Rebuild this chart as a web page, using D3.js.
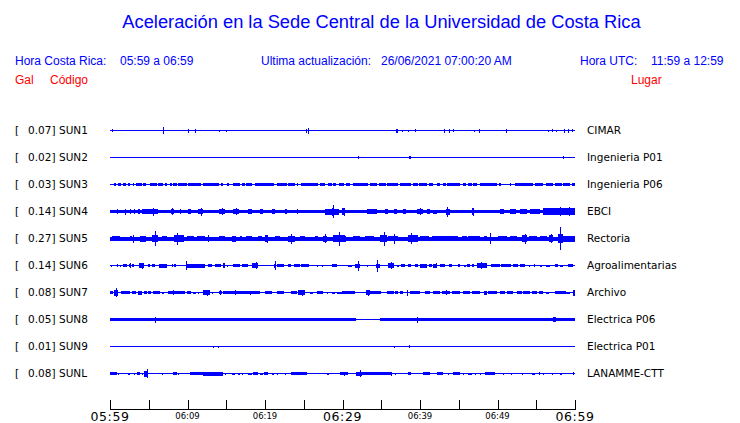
<!DOCTYPE html>
<html><head><meta charset="utf-8">
<script src="https://cdn.jsdelivr.net/npm/d3@7"></script>
<style>html,body{margin:0;padding:0;background:#fff;}svg{display:block;}</style>
</head><body>
<script>
// ---------- DATA ----------
const title = "Aceleración en la Sede Central de la Universidad de Costa Rica";
const horaCR = "05:59 a 06:59";
const actualizacion = "26/06/2021 07:00:20 AM";
const horaUTC = "11:59 a 12:59";

const codes  = ["SUN1","SUN2","SUN3","SUN4","SUN5","SUN6","SUN7","SUN8","SUN9","SUNL"];
const gals   = ["0.07","0.02","0.03","0.14","0.27","0.14","0.08","0.05","0.01","0.08"];
const places = ["CIMAR","Ingenieria P01","Ingenieria P06","EBCI","Rectoria","Agroalimentarias","Archivo","Electrica P06","Electrica P01","LANAMME-CTT"];
// background (noise) amplitude of each trace, relative units
const baseAmp = [0.5,0.5,0.5,1.7,2.0,0.5,0.5,0.5,0.5,0.5];

// bursts: [startMinute, endMinute, amplitude] (minutes after 05:59)
const sun1 = [[0.3,0.3,1.5],[6.8,7.0,3.3],[10.1,10.1,2],[11.0,11.0,2],[14.1,14.1,1],[15.0,15.0,1],[25.3,25.4,2],[25.5,25.7,3],[36.9,37.1,2],[37.7,37.7,1],[38.4,38.4,1],[39.3,39.4,1.5],[40.7,40.7,0.8],[43.1,43.2,2],[43.7,43.7,2],[44.2,44.3,1.5],[47.0,47.0,1],[47.65,47.65,2],[51.1,51.1,2],[56.55,56.55,1],[57.0,57.0,1.5],[57.55,57.55,1],[58.6,58.6,2],[59.1,59.1,2],[59.65,59.65,1.5]];
const sun2 = [[32.0,32.0,1.5],[38.6,38.8,1.5],[58.4,58.4,1.5]];
const sun3 = [[0.56,0.73,1.3],[0.99,1.42,1.3],[1.72,2.02,1.3],[2.28,2.58,1.3],[3.01,3.14,1.3],[3.31,4.09,1.3],[4.30,4.60,1.3],[5.16,6.02,1.3],[6.24,6.88,1.3],[7.10,7.31,1.3],[7.74,7.96,1.3],[8.17,8.60,1.3],[8.82,9.89,1.3],[10.1,11.8,1.3],[12.0,14.0,1.3],[14.3,14.6,1.3],[15.05,15.35,1.3],[15.9,16.8,1.3],[17.0,17.4,1.3],[17.6,18.3,1.3],[18.7,21.1,1.3],[21.6,22.8,1.3],[23.0,23.9,1.3],[24.1,24.3,1.3],[24.7,26.9,1.3],[27.1,27.7,1.3],[28.1,28.6,1.3],[28.8,29.2,1.3],[29.5,30.2,1.3],[30.45,31.0,1.3],[31.4,33.3,1.3],[33.5,34.4,1.3],[34.75,35.6,1.3],[35.8,37.2,1.3],[37.4,38.9,1.3],[39.1,39.7,1.3],[39.9,40.9,1.3],[41.1,41.7,1.3],[42.2,42.6,1.3],[43.0,43.3,1.3],[43.5,45.2,1.3],[45.5,45.9,1.3],[46.2,46.7,1.3],[46.9,47.4,1.3],[47.7,49.9,1.3],[50.2,50.5,1.3],[51.6,51.8,1.3],[52.3,53.1,1.3],[53.2,54.6,1.3],[54.8,55.9,1.3],[56.3,57.2,1.3],[57.4,58.3,1.3],[58.5,59.4,1.3],[59.6,60.0,1.3]];
const sun4 = [[0.86,1.08,2.6],[1.9,1.9,3],[2.6,2.6,2.5],[3.1,3.1,2.2],[3.6,3.9,2.3],[4.1,6.2,2.2],[5.1,5.3,2.8],[5.6,5.6,4],[7.9,8.2,2.8],[8.05,8.05,3.6],[9.0,9.0,2.5],[10.1,10.5,2.2],[11.4,12.0,2.6],[11.8,11.8,4],[14.0,14.8,2.5],[14.4,14.4,3.2],[15.9,16.6,2.7],[16.2,16.2,3.6],[17.8,18.3,2.2],[19.3,19.7,2.5],[20.9,21.3,2.2],[22.6,22.9,2.2],[24.1,24.1,2.5],[27.7,29.5,3],[28.6,28.9,4],[28.8,28.8,6.5],[29.9,30.2,3.2],[30.2,30.2,4],[33.1,34.4,2.2],[35.5,35.9,2.2],[36.6,37.0,2.2],[37.8,38.2,2.6],[39.6,40.4,2.8],[40.0,40.0,3.8],[40.9,41.3,2.1],[41.7,42.2,2],[43.3,43.9,3],[43.5,43.6,5],[46.7,47.0,3.2],[46.85,46.85,4],[50.3,50.9,2.1],[51.6,52.4,2.6],[52.9,53.8,2.3],[54.2,55.5,2.3],[55.9,60,3.3],[57.0,59.8,3.9],[58.0,58.0,4.8],[59.2,59.2,4.8]];
const sun5 = [[0.2,1.3,2.7],[2.6,2.8,2.7],[3.0,3.0,4],[3.9,4.7,3],[5.4,6.2,3.2],[5.8,5.8,7.5],[6.7,7.3,2.6],[8.2,9.5,3.8],[8.6,8.6,6],[9.9,10.8,2.6],[11.2,12.3,2.6],[12.7,12.7,3.5],[14.0,14.8,2.6],[15.7,16.3,3],[16.8,17.0,2.6],[17.6,18.3,2.6],[19.1,19.6,2.6],[20.0,20.4,3.3],[20.2,20.2,4],[21.3,21.9,2.6],[23.0,23.9,3],[23.4,23.4,5],[24.5,25.2,2.6],[26.5,26.9,2.6],[27.5,28.0,3],[27.75,27.75,4.5],[28.8,30.3,3.3],[29.5,29.5,7],[29.7,30.5,3],[31.4,32.3,2.6],[32.9,34.0,2.6],[34.8,35.7,3.2],[35.3,35.3,7],[35.9,37.2,2.9],[36.6,36.6,5],[38.5,39.8,3.6],[38.9,38.9,5.5],[40.0,41.1,2.9],[41.5,42.6,2.6],[42.6,44.9,2.3],[45.4,46.0,2.9],[46.2,47.8,2.6],[48.2,48.6,2.9],[49.0,49.1,5.5],[50.0,51.2,2.3],[51.6,52.5,2.6],[53.1,53.8,3.3],[53.6,53.6,5],[54.0,55.1,2.6],[55.5,56.4,2.9],[56.6,57.2,3.6],[56.9,56.9,4.8],[57.8,58.4,4.5],[58.1,58.1,11.5],[58.4,60,3]];
const sun6 = [[0.13,0.3,1],[0.86,1.08,1.5],[1.29,1.29,1],[1.72,2.15,1.5],[2.45,2.71,1.5],[2.58,2.58,2.5],[2.88,3.14,1.5],[3.74,4.43,2.5],[4.09,4.09,3],[4.86,5.16,1.5],[5.38,5.81,1.5],[6.32,7.31,2],[7.96,8.17,1.5],[8.3,8.52,1.5],[9.8,9.8,4.5],[9.89,12.26,2],[12.7,13.1,1.5],[13.5,14.3,1.5],[14.6,14.8,2.5],[15.05,15.05,1],[15.9,16.8,1.5],[17.0,17.85,1.5],[18.3,19.1,2.5],[18.8,18.8,3.5],[21.1,21.4,2],[21.3,21.3,4.5],[21.5,22.4,1.5],[23.0,23.4,1.5],[23.7,24.5,1.5],[24.7,25.7,1.5],[26.7,26.9,1],[27.3,27.3,1],[28.6,29.3,1.5],[30.75,31.2,1],[31.6,32.3,2],[32.0,32.0,5],[33.1,33.3,1],[34.3,34.9,2],[34.5,34.5,6],[35.9,36.6,2.5],[36.3,36.3,3.5],[37.0,37.3,1],[37.6,38.1,1.5],[38.5,38.9,1.5],[39.35,39.8,1.5],[40.0,40.9,2],[41.2,41.5,1.5],[41.7,42.2,2],[42.0,42.0,2.5],[42.6,43.2,1.5],[43.7,44.1,1.5],[44.9,45.2,1.5],[45.7,45.9,1],[46.0,46.5,1.5],[46.7,47.0,1.5],[47.3,48.6,2.5],[47.9,47.9,3.5],[49.2,50.3,1.5],[50.5,51.8,1.5],[52.0,52.7,1.5],[52.9,53.5,1.5],[54.0,54.2,1],[54.65,54.8,1.5],[55.5,55.7,1],[56.3,56.8,1],[57.4,57.85,1.5],[58.1,58.5,1],[59.1,59.8,1.5]];
const sun7 = [[0,0.43,1.5],[0.56,1.08,3],[0.73,0.73,4.5],[1.42,2.58,1.5],[2.88,3.31,1.5],[3.66,4.09,2],[4.43,4.73,1.5],[4.95,5.29,1.5],[5.59,6.45,1.5],[6.75,7.0,1],[7.53,9.68,1.5],[8.09,8.09,2.5],[9.89,10.5,1.5],[10.75,11.05,1],[11.4,11.4,1],[12.0,12.9,2.5],[12.5,12.5,3],[13.2,13.2,1],[14.0,14.4,1.5],[14.2,14.2,2.5],[14.6,19.35,1.5],[16.1,16.1,2.5],[18.1,18.1,2],[20.0,20.9,1.5],[21.5,22.4,1.5],[23.4,24.1,1.5],[24.3,25.2,2.5],[24.8,24.8,3],[25.8,26.2,1],[26.7,27.5,1.5],[27.96,27.96,1],[28.6,29.0,1],[29.25,29.9,1],[29.9,30.5,1.5],[30.5,31.6,1.5],[33.0,33.5,2.5],[33.3,33.3,3],[33.6,35.0,1.5],[35.7,36.6,1.5],[36.8,37.2,1.5],[37.4,37.8,1.5],[38.3,38.5,3],[38.7,40.0,1.5],[40.65,41.3,1.5],[41.7,42.6,1.5],[42.8,43.9,1.5],[43.4,43.4,2.5],[44.1,45.2,1.5],[45.6,46.5,1.5],[46.75,47.8,1.5],[48.2,48.6,2],[48.8,49.9,1.5],[50.3,51.0,1.5],[51.2,52.0,1.5],[52.5,53.1,1.5],[53.3,54.2,1.5],[54.4,55.05,1.5],[55.3,55.9,1.5],[56.3,56.6,1],[57.4,58.8,1.5],[58.9,59.4,1],[59.8,60,3]];
const sun8 = [[0,31.8,1.8],[34.8,60,1.8],[5.8,5.8,3],[39.6,39.7,3],[57.2,57.5,2.5]];
const sun9 = [[13.3,13.3,1],[13.9,13.9,1],[36.7,36.7,1],[38.6,38.6,1.5]];
const sunl = [[0,0.86,1.5],[1.08,1.08,1],[2.37,2.58,1],[3.14,3.14,1],[3.44,3.87,1.5],[4.09,4.09,1],[4.43,4.95,3],[4.73,4.73,4.5],[6.75,6.75,1],[8.17,8.6,1.5],[8.8,8.8,1],[10.3,12.0,1.5],[12.0,14.6,2],[14.8,14.8,1],[15.7,16.1,1],[16.5,16.8,1],[17.0,17.0,1],[17.85,18.3,1],[18.5,19.1,1.5],[19.35,19.8,1],[19.9,20.4,1.5],[20.9,21.1,1],[21.5,21.7,1],[22.6,22.6,1],[23.4,25.4,1.5],[27.96,28.2,1],[29.7,30.75,1.5],[30.2,30.2,2],[31.8,32.5,2],[32.2,32.2,3.5],[32.5,36.3,1.5],[36.2,36.2,2],[36.8,36.8,1],[38.5,38.9,1.5],[40.4,41.3,1.5],[42.2,43.0,1.5],[43.65,43.65,1],[44.3,45.2,1.5],[45.5,45.5,1],[46.2,46.7,1],[47.1,47.1,1],[47.7,47.9,1],[48.4,49.7,1.5],[50.75,50.75,1],[51.8,51.8,1],[53.1,53.1,1],[54.4,54.8,1],[55.3,55.5,1.5],[55.9,55.9,1],[57.0,57.0,1],[58.1,58.3,1],[59.8,59.8,1.5]];
const bursts = [sun1,sun2,sun3,sun4,sun5,sun6,sun7,sun8,sun9,sunl];

const tickMinutes = [0,5,10,15,20,25,30,35,40,45,50,55,60];
const tickLabels  = {0:"05:59",10:"06:09",20:"06:19",30:"06:29",40:"06:39",50:"06:49",60:"06:59"};
const majorTicks  = [0,30,60];

// ---------- DRAW ----------
const W = 740, H = 423;
const blue = "#0000ff", red = "#ff0000";
const svg = d3.select("body").append("svg").attr("width", W).attr("height", H);

const x = d3.scaleLinear().domain([0, 60]).range([110, 575]);
const y = d3.scalePoint().domain(codes).range([130.5, 373.5]);
const amp = d3.scaleLinear().domain([0, 1]).range([0, 1]);

// title & header
svg.append("text").attr("x", 381.5).attr("y", 28).attr("text-anchor", "middle")
  .attr("font-family", "Liberation Sans, Arial, sans-serif").attr("font-size", 18.3)
  .attr("fill", blue).text(title);

const hdr = (tx, px, py, col) => svg.append("text").attr("x", px).attr("y", py)
  .attr("font-family", "Liberation Sans, Arial, sans-serif").attr("font-size", 12)
  .attr("fill", col).text(tx);
hdr("Hora Costa Rica:", 15, 65, blue);
hdr(horaCR, 120, 65, blue);
hdr("Ultima actualización:", 261, 65, blue);
hdr(actualizacion, 381, 65, blue);
hdr("Hora UTC:", 580, 65, blue);
hdr(horaUTC, 651, 65, blue);
hdr("Gal", 15, 84, red);
hdr("Código", 50, 84, red);
hdr("Lugar", 631, 84, red);

// left / right labels
const lab = svg.append("g").attr("font-family", "DejaVu Sans, sans-serif").attr("font-size", 10.5).attr("fill", "#000");
codes.forEach((c, i) => {
  const yy = y(c) + 3.5;
  lab.append("text").attr("x", 15).attr("y", yy).text("[");
  lab.append("text").attr("x", 55.5).attr("y", yy).attr("text-anchor", "end").text(gals[i] + "]");
  lab.append("text").attr("x", 59).attr("y", yy).text(c);
  lab.append("text").attr("x", 587).attr("y", yy).text(places[i]);
});

// traces
const tr = svg.append("g").attr("fill", blue).attr("shape-rendering", "crispEdges");
codes.forEach((c, i) => {
  const g = tr.append("g");
  const y0 = y(c);
  g.append("rect").attr("x", x(0)).attr("width", x(60) - x(0))
    .attr("y", y0 - amp(baseAmp[i])).attr("height", 2 * amp(baseAmp[i]));
  g.selectAll("rect.b").data(bursts[i]).join("rect").attr("class", "b")
    .attr("x", d => x(d[0]))
    .attr("width", d => Math.max(1, x(d[1]) - x(d[0])))
    .attr("y", d => y0 - amp(d[2]))
    .attr("height", d => 2 * amp(d[2]));
});

// time axis
const ax = svg.append("g").attr("stroke", "#000").attr("shape-rendering", "crispEdges");
ax.append("line").attr("x1", x(0)).attr("x2", x(60) + 0.5).attr("y1", 409.5).attr("y2", 409.5);
ax.selectAll("line.t").data(tickMinutes).join("line").attr("class", "t")
  .attr("x1", d => Math.round(x(d)) + 0.5).attr("x2", d => Math.round(x(d)) + 0.5)
  .attr("y1", 400).attr("y2", 409.5);
svg.append("g").selectAll("text").data(Object.keys(tickLabels).map(Number)).join("text")
  .attr("x", d => x(d)).attr("y", d => majorTicks.includes(d) ? 421 : 418.5)
  .attr("text-anchor", "middle")
  .attr("font-family", "DejaVu Sans, sans-serif")
  .attr("font-size", d => majorTicks.includes(d) ? 12.5 : 8.5)
  .attr("letter-spacing", d => majorTicks.includes(d) ? 0.6 : 0)
  .attr("fill", "#000").text(d => tickLabels[d]);
</script>
</body></html>
